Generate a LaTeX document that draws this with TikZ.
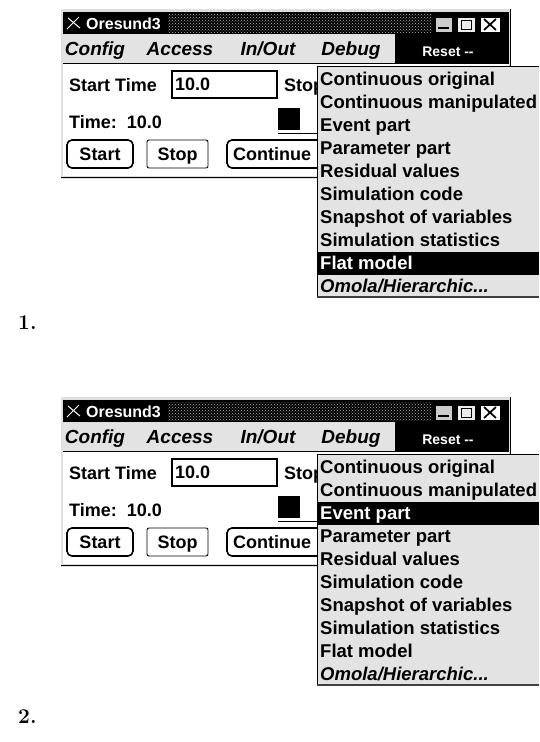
\documentclass[tikz,border=0pt]{standalone}
\usepackage{fontspec}
\newfontfamily\ui{Liberation Sans}
\usetikzlibrary{patterns}
\tikzset{
  lbl/.style={font=\ui\bfseries\fontsize{18}{21}\selectfont, inner sep=0pt, anchor=base west},
  mbar/.style={font=\ui\bfseries\itshape\fontsize{19}{22}\selectfont, inner sep=0pt, anchor=base},
  itemtxt/.style={font=\ui\bfseries\fontsize{18.5}{21}\selectfont, inner sep=0pt, anchor=base west},
  btnbox/.style={draw, line width=1.6pt, rounded corners=5pt},
  stip/.style={fill=gray!22},
  numlbl/.style={font=\bfseries\fontsize{21}{24}\selectfont, inner sep=0pt, anchor=base west},
}
\newcommand\drawpanel[3]{%
\begin{scope}[shift={(0,#2)}]
  % window frame
  \fill[gray!25] (61,9) rectangle (511,179);
  % title bar
  \fill[black] (63,12) rectangle (509,34);
  \fill[pattern=crosshatch dots, pattern color=gray!60] (168,14) rectangle (432,32);
  \draw[white, line width=1pt] (67,29) -- (79,17) (68,18) -- (80,28);
  \node[font=\ui\bfseries\fontsize{16}{19}\selectfont, text=white, anchor=base west, inner sep=0pt] (#1title) at (86,29) {Oresund3};
  \draw[fill=gray!40] (435,17) rectangle (452,32);
  \draw[line width=1.6pt] (438,28) -- (449,28);
  \draw[fill=gray!15] (457,17) rectangle (475,32);
  \draw[line width=1pt] (461,20) rectangle (471,29);
  \draw[fill=white] (480,17) rectangle (500,32);
  \draw[line width=1.7pt] (484,19) -- (496,30) (484,30) -- (496,19);
  % menu bar
  \fill[stip] (63,35) rectangle (395,63);
  \draw[line width=1pt] (63,63.5) -- (395,63.5);
  \node[mbar] (#1config) at (95,55) {Config};
  \node[mbar] (#1access) at (180,55) {Access};
  \node[mbar] (#1inout) at (268,55) {In/Out};
  \node[mbar] (#1debug) at (351,55) {Debug};
  \fill[black] (395,34) rectangle (509,66);
  \node[font=\ui\bfseries\fontsize{14}{17}\selectfont, text=white, inner sep=0pt, anchor=base] (#1reset) at (448,56) {Reset --};
  % body
  \fill[white] (63,64) rectangle (509,176);
  \draw[line width=1.2pt] (510.5,9) -- (510.5,179);
  \node[lbl] (#1start) at (69,91) {Start Time};
  \draw[line width=1.1pt] (172,71) rectangle (277,98);
  \node[lbl] (#1val) at (175,90) {10.0};
  \node[lbl] (#1sto) at (284,91) {Stop};
  \node[lbl] (#1time) at (69,128) {Time:\ \ 10.0};
  \fill[black] (278,108) rectangle (300,130);
  \draw[line width=1pt] (278,133) -- (317,133);
  \draw[btnbox] (67,140) rectangle (133,168);
  \node[lbl, anchor=base] (#1bstart) at (100,160.5) {Start};
  \draw[line width=0.9pt, rounded corners=2pt] (147,140) rectangle (208,168);
  \node[lbl, anchor=base] (#1bstop) at (177.5,160.5) {Stop};
  \draw[btnbox] (227,140) rectangle (340,168);
  \node[lbl] (#1bcont) at (233,160.5) {Continue};
  \draw[line width=1.5pt] (61,177.5) -- (317,177.5);
  % popup menu
  \fill[stip] (317,66) rectangle (539,297);
  \draw[line width=1pt] (317.5,297) -- (317.5,66.5) -- (539,66.5);
  \draw[line width=2.2pt, black!75] (317,297) -- (539,297);
  \foreach \t [count=\i] in {Continuous original, Continuous manipulated, Event part,
      Parameter part, Residual values, Simulation code, Snapshot of variables,
      Simulation statistics, Flat model} {
    \pgfmathsetmacro\yy{79+23*(\i-1)}
    \ifnum\i=#3
      \fill[black] (318,\yy-11.5) rectangle (539,\yy+11.5);
      \node[itemtxt, text=white] (#1item\i) at (320,\yy+6.5) {\t};
    \else
      \node[itemtxt] (#1item\i) at (320,\yy+6.5) {\t};
    \fi
  }
  \node[itemtxt, font=\ui\bfseries\itshape\fontsize{18.5}{21}\selectfont] (#1item10) at (320,292.5) {Omola/Hierarchic...};
\end{scope}}

\begin{document}
\begin{tikzpicture}[x=1pt, y=-1pt]
  \useasboundingbox[fill=white] (0,0) rectangle (539,742);
  \drawpanel{a}{0}{9}
  \drawpanel{b}{388}{3}
  \node[numlbl] (lab1) at (18,329) {1.};
  \node[numlbl] (lab2) at (18,723) {2.};
\end{tikzpicture}
\end{document}
